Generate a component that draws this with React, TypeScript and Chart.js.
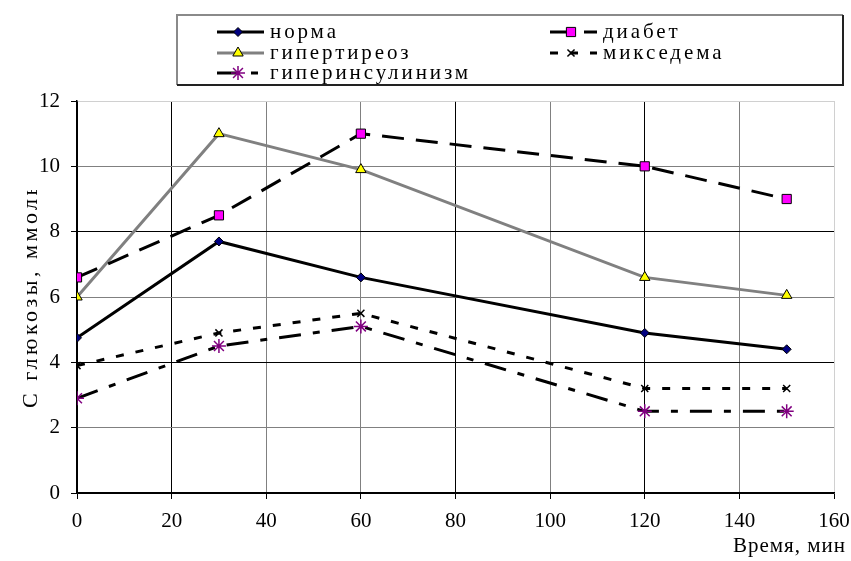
import React, { useEffect, useRef } from "react";
import { Chart, registerables } from "chart.js";
import { drawPoint } from "chart.js/helpers";

Chart.register(...registerables);

const times = [0, 30, 60, 120, 150];
const normaValues = [4.75, 7.7, 6.6, 4.9, 4.4];
const diabetValues = [6.6, 8.5, 11, 10, 9];
const hyperthyroidValues = [6, 11, 9.9, 6.6, 6.05];
const myxedemaValues = [3.9, 4.9, 5.5, 3.2, 3.2];
const hyperinsulinValues = [2.9, 4.5, 5.1, 2.5, 2.5];
const seriesNames = ["норма", "диабет", "гипертиреоз", "микседема", "гиперинсулинизм"];
const xTitle = "Время, мин";
const yTitle = "С глюкозы, ммоль/л";

const SERIF = "'Liberation Serif', 'Times New Roman', serif";

const toPoints = (vals: number[]) => vals.map((y, i) => ({ x: times[i], y }));

const xGridColor = (v: number) => {
  if (v === 160) return "#d0d0d0";
  if ([0, 20, 80, 120].includes(v)) return "#000000";
  return "#808080";
};
const yGridColor = (v: number) => {
  if (v === 12) return "#d0d0d0";
  if (v % 4 === 0) return "#000000";
  return "#808080";
};

const legendPlugin = {
  id: "customLegend",
  afterDraw(chart: any) {
    const ctx = chart.ctx;
    ctx.save();
    // box
    ctx.lineWidth = 2;
    ctx.strokeStyle = "#8a8a8a";
    ctx.beginPath();
    ctx.moveTo(177, 85);
    ctx.lineTo(177, 15);
    ctx.lineTo(843, 15);
    ctx.stroke();
    ctx.strokeStyle = "#222";
    ctx.beginPath();
    ctx.moveTo(843, 15);
    ctx.lineTo(843, 85);
    ctx.lineTo(177, 85);
    ctx.stroke();

    const slots = [
      { x: 217, y: 32 },
      { x: 550, y: 32 },
      { x: 217, y: 53 },
      { x: 550, y: 53 },
      { x: 217, y: 73 },
    ];
    chart.data.datasets.forEach((ds: any, i: number) => {
      const s = slots[i];
      ctx.save();
      ctx.strokeStyle = ds.borderColor;
      ctx.lineWidth = ds.borderWidth;
      ctx.setLineDash(ds.borderDash || []);
      ctx.beginPath();
      ctx.moveTo(s.x, s.y);
      ctx.lineTo(s.x + 47, s.y);
      ctx.stroke();
      ctx.restore();
      ctx.save();
      ctx.fillStyle = ds.pointBackgroundColor;
      ctx.strokeStyle = ds.pointBorderColor;
      ctx.lineWidth = ds.pointBorderWidth;
      drawPoint(ctx, { pointStyle: ds.pointStyle, rotation: 0, borderWidth: ds.pointBorderWidth, radius: ds.pointRadius }, s.x + 21, s.y);
      ctx.restore();
      ctx.save();
      ctx.fillStyle = "#000";
      ctx.font = `21px ${SERIF}`;
      (ctx as any).letterSpacing = "2.9px";
      ctx.textAlign = "left";
      ctx.textBaseline = "middle";
      ctx.fillText(ds.label, s.x + 53, s.y);
      ctx.restore();
    });

    // axis titles
    ctx.fillStyle = "#000";
    ctx.font = `21px ${SERIF}`;
    (ctx as any).letterSpacing = "1px";
    ctx.textAlign = "right";
    ctx.textBaseline = "middle";
    ctx.fillText(xTitle, 846, 546);

    ctx.save();
    ctx.beginPath();
    ctx.rect(0, 190, 70, 371);
    ctx.clip();
    ctx.translate(31, 408);
    ctx.rotate(-Math.PI / 2);
    ctx.textAlign = "left";
    ctx.font = `22px ${SERIF}`;
    (ctx as any).letterSpacing = "3.5px";
    ctx.fillText(yTitle, 0, 0);
    ctx.restore();
    ctx.restore();
  },
};

export default function App() {
  const ref = useRef<HTMLCanvasElement | null>(null);
  useEffect(() => {
    if (!ref.current) return;
    const chart = new Chart(ref.current, {
      type: "line",
      data: {
        datasets: [
          {
            label: seriesNames[0],
            data: toPoints(normaValues),
            borderColor: "#000000",
            borderWidth: 3,
            pointStyle: "rectRot",
            pointRadius: 4.5,
            pointBackgroundColor: "#000080",
            pointBorderColor: "#000000",
            pointBorderWidth: 1,
          },
          {
            label: seriesNames[1],
            data: toPoints(diabetValues),
            borderColor: "#000000",
            borderWidth: 3,
            borderDash: [22, 12],
            pointStyle: "rect",
            pointRadius: 6.5,
            pointBackgroundColor: "#ff00ff",
            pointBorderColor: "#000000",
            pointBorderWidth: 1,
          },
          {
            label: seriesNames[2],
            data: toPoints(hyperthyroidValues),
            borderColor: "#808080",
            borderWidth: 3,
            pointStyle: "triangle",
            pointRadius: 6,
            pointBackgroundColor: "#ffff00",
            pointBorderColor: "#000000",
            pointBorderWidth: 1,
          },
          {
            label: seriesNames[3],
            data: toPoints(myxedemaValues),
            borderColor: "#000000",
            borderWidth: 3,
            borderDash: [8, 12],
            pointStyle: "crossRot",
            pointRadius: 5,
            pointBackgroundColor: "#000000",
            pointBorderColor: "#000000",
            pointBorderWidth: 1.5,
          },
          {
            label: seriesNames[4],
            data: toPoints(hyperinsulinValues),
            borderColor: "#000000",
            borderWidth: 3,
            borderDash: [22, 12, 7, 12],
            pointStyle: "star",
            pointRadius: 7,
            pointBackgroundColor: "#800080",
            pointBorderColor: "#800080",
            pointBorderWidth: 1.5,
          },
        ],
      },
      options: {
        animation: false,
        responsive: false,
        devicePixelRatio: 1,
        layout: { padding: { top: 101, right: 17, left: 0, bottom: 0 } },
        plugins: { legend: { display: false }, tooltip: { enabled: false } },
        elements: { line: { tension: 0 } },
        scales: {
          x: {
            type: "linear",
            min: 0,
            max: 160,
            ticks: { stepSize: 20, color: "#000", padding: 10, font: { family: SERIF, size: 21 } },
            grid: {
              color: (c: any) => xGridColor(c.tick ? c.tick.value : 0),
              tickColor: "#000",
              tickLength: 6,
              lineWidth: 1,
            },
            border: { color: "#000", width: 1.5 },
            afterFit: (s: any) => {
              s.height = 68;
              s.paddingLeft = 0;
              s.paddingRight = 0;
              s.paddingTop = 0;
              s.paddingBottom = 0;
            },
          },
          y: {
            type: "linear",
            min: 0,
            max: 12,
            ticks: { stepSize: 2, color: "#000", padding: 11, font: { family: SERIF, size: 21 } },
            grid: {
              color: (c: any) => yGridColor(c.tick ? c.tick.value : 0),
              tickColor: "#000",
              tickLength: 6,
              lineWidth: 1,
            },
            border: { color: "#000", width: 1.5 },
            afterFit: (s: any) => {
              s.width = 77;
              s.paddingLeft = 0;
              s.paddingRight = 0;
              s.paddingTop = 0;
              s.paddingBottom = 0;
            },
          },
        },
      },
      plugins: [legendPlugin],
    });
    return () => chart.destroy();
  }, []);
  return (
    <div style={{ position: "fixed", left: 0, top: 0, width: 851, height: 561, background: "#fff" }}>
      <canvas ref={ref} width={851} height={561} style={{ width: 851, height: 561, display: "block" }} />
    </div>
  );
}
